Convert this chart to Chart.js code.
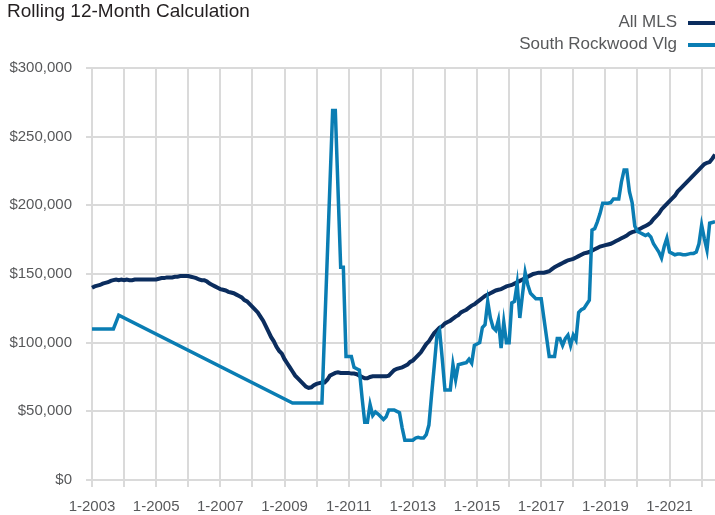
<!DOCTYPE html>
<html>
<head>
<meta charset="utf-8">
<script src="https://cdn.jsdelivr.net/npm/chart.js@4.4.0/dist/chart.umd.min.js"></script>
<style>
    body { margin: 0; background: #fff; }
    #wrap { position: relative; width: 715px; height: 515px; overflow: hidden; }
    #title { position: absolute; left: 7px; top: 0px; font: 19px 'Liberation Sans Narrow', 'Arial Narrow', sans-serif; color: #231f20; white-space: nowrap; }
    .leg { position: absolute; right: 0; height: 20px; line-height: 20px; font: 17px 'Liberation Sans Narrow', 'Arial Narrow', sans-serif; color: #58595b; white-space: nowrap; }
    .leg i { display: inline-block; width: 27px; height: 4px; margin-left: 11px; vertical-align: middle; }
    canvas { position: absolute; left: 0; top: 0; }
</style>
</head>
<body>
<div id="wrap">
    <canvas id="chart" width="715" height="515"></canvas>
    <div id="title">Rolling 12-Month Calculation</div>
    <div class="leg" style="top:12px">All MLS<i style="background:#0b2d5e"></i></div>
    <div class="leg" style="top:34px">South Rockwood Vlg<i style="background:#0a7db3"></i></div>
</div>
<script>
// months 1-2003 .. 6-2022
var months = [];
for (var y = 2003; y <= 2022; y++) {
    for (var m = 1; m <= 12; m++) {
        if (y == 2022 && m > 6) break;
        months.push(m + "-" + y);
    }
}

var tickLabels = ["1-2003", "1-2005", "1-2007", "1-2009", "1-2011", "1-2013", "1-2015", "1-2017", "1-2019", "1-2021"];
var yTicks = [0, 50000, 100000, 150000, 200000, 250000, 300000];

var allMls = [
    140000,141000,141500,142000,143000,143500,144000,145000,145500,146000,145500,146000,
    145500,146000,145500,145500,146000,146000,146000,146000,146000,146000,146000,146000,
    146000,146500,147000,147000,147500,147500,147500,148000,148000,148500,148500,148500,
    148500,148000,147500,147000,146000,145500,145500,144500,143000,142000,141000,140000,
    139000,138500,138000,137000,136500,136000,135000,134000,133000,131000,130000,128000,
    126000,124000,122000,119000,116000,112000,108000,104000,101000,97000,94000,92000,
    88000,85000,82000,79000,76000,74000,72000,70000,68000,67000,67500,69000,
    70000,70500,71000,71000,73000,76000,77000,78000,78500,78000,78000,78000,
    78000,77500,77500,77000,76000,75000,74000,74000,75000,75500,75500,75500,
    75500,75500,75500,76000,78000,80000,81000,81500,82000,83000,84000,86000,
    87000,89000,91000,93000,96000,99000,101000,104000,107000,109000,111000,112000,
    114000,115000,116000,117500,119000,120000,122000,123000,124000,125500,127000,128000,
    129500,131000,132500,134000,135000,136000,137000,138000,138500,139000,140000,141000,
    141500,142000,143000,144000,145000,146000,147000,148000,149000,150000,150500,151000,
    151000,151000,151500,152000,153500,155000,156000,157000,158000,159000,160000,160500,
    161000,162000,163000,164000,165000,165500,166000,167000,168000,169000,170000,170500,
    171000,171500,172000,173000,174000,175000,176000,177000,178000,179500,180500,181000,
    182000,183000,184000,185000,186000,187500,190000,192000,194000,197000,199000,201000,
    203000,205000,207000,210000,212000,214000,216000,218000,220000,222000,224000,226000,
    228000,230000,231000,231500,234000,237000
];

var southRockwood = [
    110000,110000,110000,110000,110000,110000,110000,110000,110000,115000,120000,null,
    null,null,null,null,null,null,null,null,null,null,null,null,
    null,null,null,null,null,null,null,null,null,null,null,null,
    null,null,null,null,null,null,null,null,null,null,null,null,
    null,null,null,null,null,null,null,null,null,null,null,null,
    null,null,null,null,null,null,null,null,null,null,null,null,
    null,null,null,56000,56000,56000,56000,56000,56000,56000,56000,56000,
    56000,56000,56000,null,null,null,269000,269000,null,155000,155000,90000,
    90000,90000,82000,81000,80000,60000,42000,42000,55000,47000,49500,48000,
    46000,44000,46000,51000,51000,51000,50000,49000,38000,29000,29000,29000,
    29000,30500,31000,30500,30500,33000,40000,62000,83000,105000,109000,88000,
    65500,65500,65500,84000,73000,84000,84500,85000,85500,88000,85000,98000,
    99000,100000,111000,113000,130000,118000,111000,109000,116500,96000,115000,100000,
    100000,129000,130000,143000,118000,135000,151000,142000,136000,134000,132000,132000,
    132000,118000,104000,90000,90000,90000,103000,103000,98000,103000,105500,98000,
    105500,102000,122000,124000,125000,128000,131000,182000,183000,188000,194000,201600,
    201600,201600,202000,204600,204600,204600,217000,225700,225700,210000,202000,185000,
    181000,180000,179000,178000,179000,177000,172000,169000,166000,161600,170000,176000,
    166000,165000,164000,164500,164500,164000,164000,164500,165000,165000,166000,172000,
    185600,176000,167500,187000,187500,188000
];

var tickFont = { family: "'Liberation Sans Narrow', 'Arial Narrow', sans-serif", size: 15 };
var gridColor = "#dadada";

new Chart(document.getElementById("chart"), {
    type: "line",
    data: {
        labels: months,
        datasets: [
            {
                label: "South Rockwood Vlg",
                data: southRockwood,
                borderColor: "#0a7db3",
                borderWidth: 3.5,
                pointRadius: 0,
                spanGaps: true,
                tension: 0
            },
            {
                label: "All MLS",
                data: allMls,
                borderColor: "#0b2d5e",
                borderWidth: 4,
                pointRadius: 0,
                tension: 0
            }
        ]
    },
    options: {
        responsive: false,
        animation: false,
        layout: { padding: { top: 68, right: 0, left: 0, bottom: 0 } },
        plugins: {
            legend: { display: false },
            tooltip: { enabled: false },
            title: { display: false }
        },
        scales: {
            x: {
                offset: false,
                grid: {
                    lineWidth: 2,
                    tickLength: 7,
                    color: function(ctx) {
                        return ctx.index % 12 === 0 ? gridColor : "rgba(0,0,0,0)";
                    }
                },
                border: { display: false },
                ticks: {
                    autoSkip: false,
                    maxRotation: 0,
                    minRotation: 0,
                    padding: 11,
                    color: "#58595b",
                    font: tickFont,
                    callback: function(v, i) {
                        var lab = months[i];
                        return tickLabels.indexOf(lab) >= 0 ? lab : "";
                    }
                },
                afterFit: function(scale) {
                    scale.height = 35;
                    scale.paddingLeft = 0;
                    scale.paddingRight = 0;
                }
            },
            y: {
                min: 0,
                max: 300000,
                grid: { lineWidth: 2, tickLength: 6, color: gridColor },
                border: { display: false },
                afterBuildTicks: function(scale) {
                    scale.ticks = yTicks.map(function(v) { return { value: v }; });
                },
                ticks: {
                    padding: 14,
                    color: "#58595b",
                    font: tickFont,
                    callback: function(v) { return "$" + v.toLocaleString("en-US"); }
                },
                afterFit: function(scale) { scale.width = 92; }
            }
        }
    }
});
</script>
</body>
</html>
